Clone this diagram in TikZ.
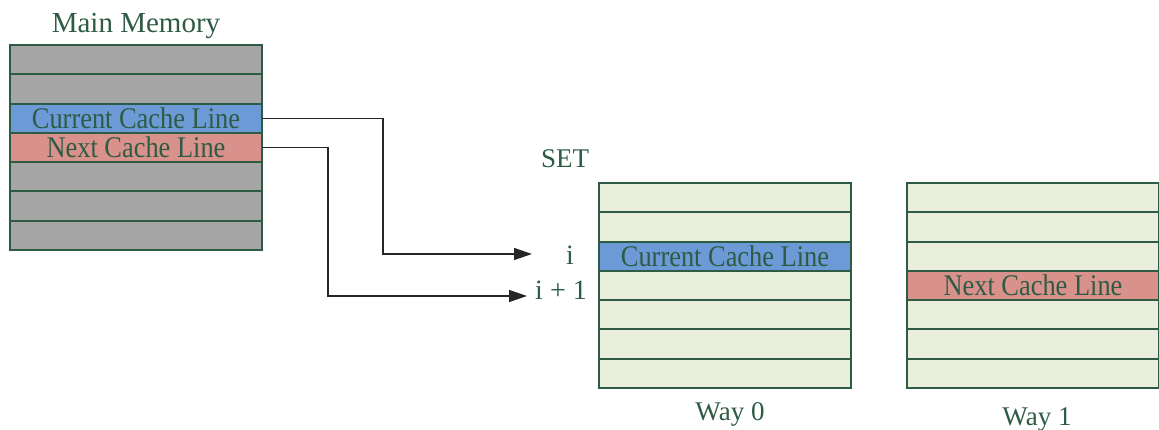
\documentclass[tikz,border=0pt]{standalone}
\usepackage{fontspec}
\setmainfont{Liberation Serif}
\newfontfamily\rowfont{Liberation Serif}[FakeStretch=0.88]
\usetikzlibrary{arrows.meta, positioning}
\definecolor{memgray}{HTML}{A6A6A6}
\definecolor{curblue}{HTML}{6B9AD6}
\definecolor{nextred}{HTML}{D8918B}
\definecolor{setfill}{HTML}{EAEEDC}
\definecolor{edgegreen}{HTML}{2E5B44}
\tikzset{
  cacherow/.style={rectangle, draw=edgegreen, line width=2pt, text=edgegreen,
    minimum width=252pt, minimum height=29.3pt, inner sep=0pt, outer sep=0pt,
    font=\rowfont\fontsize{30}{30}\selectfont},
  lbl/.style={text=edgegreen, inner sep=0pt, font=\fontsize{27}{27}\selectfont},
  link/.style={-{Triangle[length=18pt, width=12pt]}, line width=1.4pt, draw=black!85}
}

\begin{document}
\begin{tikzpicture}[x=1pt, y=-1pt]
\useasboundingbox (0,0) rectangle (1159,430);

% ---- main memory (left) ----
\node[lbl, anchor=base, font=\fontsize{29}{29}\selectfont] (memtitle) at (136,33) {Main Memory};
\foreach \k/\fc/\txt in {1/memgray/{}, 2/memgray/{}, 3/curblue/{Current Cache Line},
    4/nextred/{Next Cache Line}, 5/memgray/{}, 6/memgray/{}, 7/memgray/{}}
  \node[cacherow, fill=\fc] (mem\k) at (136,{45+29.29*(\k-0.5)}) {\txt};

% ---- set index ----
\node[lbl, anchor=base] (settitle) at (565,168) {SET};
\node[lbl, anchor=base, font=\fontsize{28}{28}\selectfont] (seti) at (570,265) {i};
\node[lbl, anchor=base, font=\fontsize{28}{28}\selectfont] (setnext) at (561,300) {i + 1};
\coordinate (tipi) at (532,254);
\coordinate (tipnext) at (527,296);

% ---- way 0 ----
\foreach \k/\fc/\txt in {1/setfill/{}, 2/setfill/{}, 3/curblue/{Current Cache Line},
    4/setfill/{}, 5/setfill/{}, 6/setfill/{}, 7/setfill/{}}
  \node[cacherow, fill=\fc] (wayA\k) at (725,{183+29.29*(\k-0.5)}) {\txt};
\node[lbl, anchor=base] (wayAtitle) at (730,420) {Way 0};

% ---- way 1 ----
\foreach \k/\fc/\txt in {1/setfill/{}, 2/setfill/{}, 3/setfill/{},
    4/nextred/{Next Cache Line}, 5/setfill/{}, 6/setfill/{}, 7/setfill/{}}
  \node[cacherow, fill=\fc] (wayB\k) at (1033,{183+29.29*(\k-0.5)}) {\txt};
\node[lbl, anchor=base] (wayBtitle) at (1037,425) {Way 1};

% ---- conexiones ----
\draw[link] (mem3.east) -- ++(121,0) |- (tipi);
\draw[link] (mem4.east) -- ++(66,0) |- (tipnext);

\end{tikzpicture}
\end{document}
